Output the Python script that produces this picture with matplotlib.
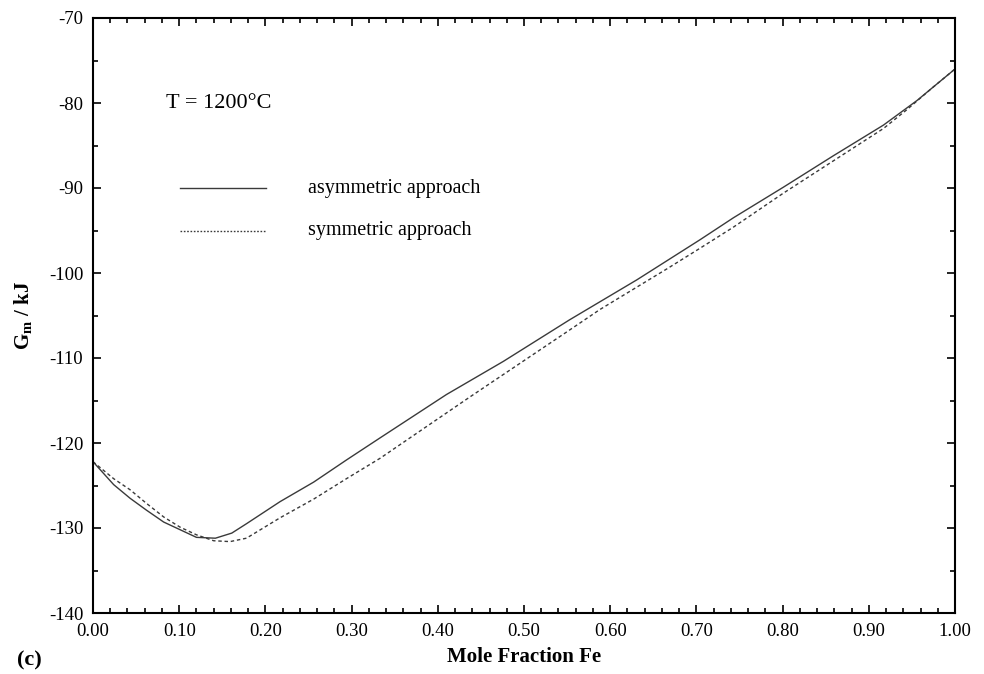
import matplotlib
matplotlib.use("Agg")
import matplotlib.pyplot as plt
from matplotlib.ticker import MultipleLocator, FormatStrFormatter

plt.rcParams['font.family'] = ['Liberation Serif', 'DejaVu Serif']
plt.rcParams['axes.unicode_minus'] = False
plt.rcParams['mathtext.fontset'] = 'custom'
plt.rcParams['mathtext.rm'] = 'Liberation Serif'
plt.rcParams['mathtext.bf'] = 'Liberation Serif:bold'

# Gibbs energy curves at 1200 C, kJ vs mole fraction Fe
x_asym = [0.00, 0.024, 0.043, 0.062, 0.082, 0.101, 0.120, 0.142, 0.161, 0.178,
          0.217, 0.256, 0.294, 0.333, 0.410, 0.476, 0.553, 0.631, 0.704, 0.743,
          0.801, 0.859, 0.917, 0.956, 0.975, 1.00]
g_asym = [-122.2, -124.9, -126.5, -127.9, -129.3, -130.2, -131.1, -131.2, -130.6, -129.5,
          -126.9, -124.6, -122.0, -119.4, -114.3, -110.4, -105.5, -100.8, -96.1, -93.5,
          -89.9, -86.2, -82.6, -79.7, -78.1, -76.0]

x_sym = [0.00, 0.024, 0.043, 0.062, 0.082, 0.101, 0.120, 0.140, 0.159, 0.178,
         0.217, 0.256, 0.294, 0.333, 0.437, 0.553, 0.588, 0.666, 0.704, 0.743,
         0.801, 0.859, 0.917, 0.944, 0.975, 1.00]
g_sym = [-122.2, -124.2, -125.5, -127.1, -128.7, -129.9, -130.8, -131.5, -131.6, -131.2,
         -128.8, -126.6, -124.2, -121.8, -114.6, -106.7, -104.3, -99.5, -97.1, -94.6,
         -90.6, -86.8, -83.0, -80.8, -78.1, -76.0]

labels = ['asymmetric approach', 'symmetric approach']
line_col = '#3a3a3a'

fig = plt.figure(figsize=(9.84, 6.74), dpi=100)
ax = fig.add_axes([93 / 984, 1 - 613 / 674, 862 / 984, 595 / 674])

ax.plot(x_asym, g_asym, color=line_col, lw=1.0, ls='-')
ax.plot(x_sym, g_sym, color=line_col, lw=1.0, ls=(0, (2.5, 2)))

ax.set_xlim(0, 1)
ax.set_ylim(-140, -70)
ax.xaxis.set_major_locator(MultipleLocator(0.1))
ax.xaxis.set_minor_locator(MultipleLocator(0.02))
ax.yaxis.set_major_locator(MultipleLocator(10))
ax.yaxis.set_minor_locator(MultipleLocator(5))
ax.xaxis.set_major_formatter(FormatStrFormatter('%.2f'))
ax.yaxis.set_major_formatter(FormatStrFormatter('%d'))

ax.tick_params(which='both', direction='in', top=True, right=True,
               labelsize=13.5, width=1.2)
ax.tick_params(which='major', length=6, pad=7)
ax.tick_params(which='minor', length=3.8)
for sp in ax.spines.values():
    sp.set_linewidth(1.5)

ax.set_xlabel('Mole Fraction Fe', fontsize=15, fontweight='bold', labelpad=5)
ax.set_ylabel(r'G$_\mathbf{m}$ / kJ', fontsize=15, fontweight='bold', labelpad=10)

ax.text(0.085, -80, 'T = 1200\u00b0C', fontsize=16, va='center', ha='left')

# legend drawn by hand
ax.plot([0.101, 0.2007], [-90, -90], color=line_col, lw=1.0, ls='-')
ax.plot([0.101, 0.2007], [-95, -95], color=line_col, lw=1.0, ls=(0, (1.2, 1.2)))
ax.text(0.249, -90, labels[0], fontsize=14.5, va='center', ha='left')
ax.text(0.249, -95, labels[1], fontsize=14.5, va='center', ha='left')

fig.text(17 / 984, 1 - 660 / 674, '(c)', fontsize=16, fontweight='bold',
         va='center', ha='left')

fig.savefig('out.png', dpi=100)
